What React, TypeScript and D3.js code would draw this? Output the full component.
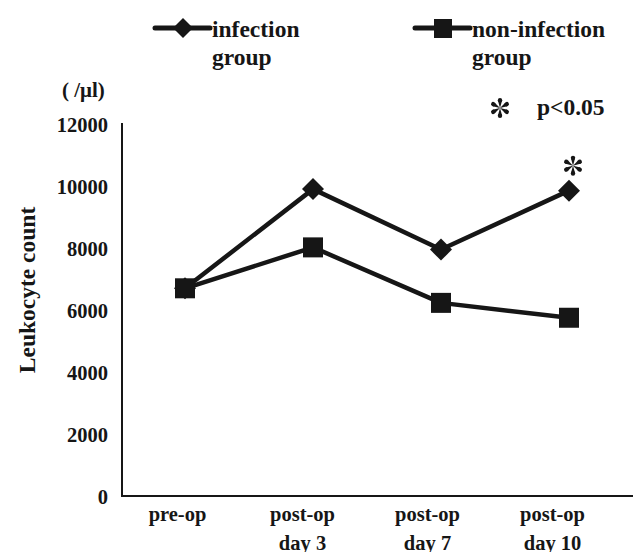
import React, { useRef, useEffect } from "react";
import * as d3 from "d3";

// chart data
const categories = ["pre-op", "post-op day 3", "post-op day 7", "post-op day 10"];
const tickLines = [["pre-op"], ["post-op", "day 3"], ["post-op", "day 7"], ["post-op", "day 10"]];
const infection = [6700, 9900, 7950, 9850];
const nonInfection = [6700, 8020, 6230, 5750];
const yTicks = [0, 2000, 4000, 6000, 8000, 10000, 12000];
const significant = [false, false, false, true];

const INK = "#161616";
const FONT = "Liberation Serif, DejaVu Serif, serif";

// six teardrop spokes, like the asterisk in the figure
function drawAsterisk(g: any, cx: number, cy: number, r: number) {
  const a = g.append("g").attr("transform", `translate(${cx},${cy})`);
  for (let k = 0; k < 6; k++) {
    const s = a.append("g").attr("transform", `rotate(${k * 60})`);
    s.append("path")
      .attr("d", `M0,0 L${-r * 0.2},${-r * 0.72} L${r * 0.2},${-r * 0.72} Z`)
      .attr("fill", INK);
    s.append("circle").attr("cx", 0).attr("cy", -r * 0.78).attr("r", r * 0.22).attr("fill", INK);
  }
}

function LeukocyteChart() {
  const svgRef = useRef<SVGSVGElement>(null);

  useEffect(() => {
    const svg = d3.select(svgRef.current);
    svg.selectAll("*").remove();

    const x = d3.scaleBand().domain(categories).range([121, 633]);
    const xLabel = d3.scaleBand().domain(categories).range([115, 615]);
    const y = d3.scaleLinear().domain([0, 12000]).range([496, 124]);
    const cx = (c: string) => (x(c) as number) + x.bandwidth() / 2;

    const label = (sel: any, size: number) =>
      sel.style("font-family", FONT).style("font-weight", "bold").style("font-size", `${size}px`).attr("fill", INK);

    // axes
    svg.append("line").attr("x1", 122).attr("x2", 122).attr("y1", y(12000) - 1).attr("y2", y(0))
      .attr("stroke", INK).attr("stroke-width", 2);
    svg.append("line").attr("x1", 121).attr("x2", 633).attr("y1", y(0)).attr("y2", y(0))
      .attr("stroke", INK).attr("stroke-width", 2);

    label(
      svg.selectAll(".ytick").data(yTicks).enter().append("text")
        .attr("x", 108).attr("y", (d: number) => y(d) + 8)
        .attr("text-anchor", "end"),
      20.5
    ).text((d: number) => d);

    categories.forEach((c, i) => {
      tickLines[i].forEach((t, j) => {
        label(
          svg.append("text")
            .attr("x", (xLabel(c) as number) + xLabel.bandwidth() / 2)
            .attr("y", 521 + j * 29)
            .attr("text-anchor", "middle"),
          20.5
        ).text(t);
      });
    });

    label(
      svg.append("text")
        .attr("transform", "translate(35,290) rotate(-90)")
        .attr("text-anchor", "middle"),
      23.5
    ).text("Leukocyte count");

    label(svg.append("text").attr("x", 62).attr("y", 97), 21).text("( /μl)");

    // lines
    const line = d3.line<number>().x((_, i) => cx(categories[i])).y((d) => y(d));
    [infection, nonInfection].forEach((s) => {
      svg.append("path").attr("d", line(s) as string)
        .attr("fill", "none").attr("stroke", INK).attr("stroke-width", 4.5)
        .attr("stroke-linejoin", "round");
    });

    const diamond = (px: number, py: number, r: number) =>
      `M${px},${py - r} L${px + r},${py} L${px},${py + r} L${px - r},${py} Z`;

    infection.forEach((v, i) => {
      svg.append("path").attr("d", diamond(cx(categories[i]), y(v), 11)).attr("fill", INK);
    });
    nonInfection.forEach((v, i) => {
      svg.append("rect")
        .attr("x", cx(categories[i]) - 10).attr("y", y(v) - 10)
        .attr("width", 20).attr("height", 20).attr("fill", INK);
    });

    infection.forEach((v, i) => {
      if (significant[i]) drawAsterisk(svg, cx(categories[i]) + 4, y(v) - 25, 10);
    });

    // legend
    const legend = [
      { x0: 155, label: "infection", mark: "diamond" },
      { x0: 415, label: "non-infection", mark: "square" },
    ];
    legend.forEach((l) => {
      svg.append("line").attr("x1", l.x0).attr("x2", l.x0 + 55).attr("y1", 28).attr("y2", 28)
        .attr("stroke", INK).attr("stroke-width", 5).attr("stroke-linecap", "round");
      const mx = l.x0 + 28;
      if (l.mark === "diamond") {
        svg.append("path").attr("d", diamond(mx, 28, 10)).attr("fill", INK);
      } else {
        svg.append("rect").attr("x", mx - 9).attr("y", 19).attr("width", 18).attr("height", 19).attr("fill", INK);
      }
      label(svg.append("text").attr("x", l.x0 + 57).attr("y", 37), 23.5).text(l.label);
      label(svg.append("text").attr("x", l.x0 + 57).attr("y", 65), 23.5).text("group");
    });

    drawAsterisk(svg, 500, 108, 10);
    label(svg.append("text").attr("x", 537).attr("y", 115), 23.5).text("p<0.05");
  }, []);

  return <svg ref={svgRef} width={633} height={552} style={{ position: "absolute", left: 0, top: 0, background: "#fff" }} />;
}

export default function App() {
  return <LeukocyteChart />;
}
